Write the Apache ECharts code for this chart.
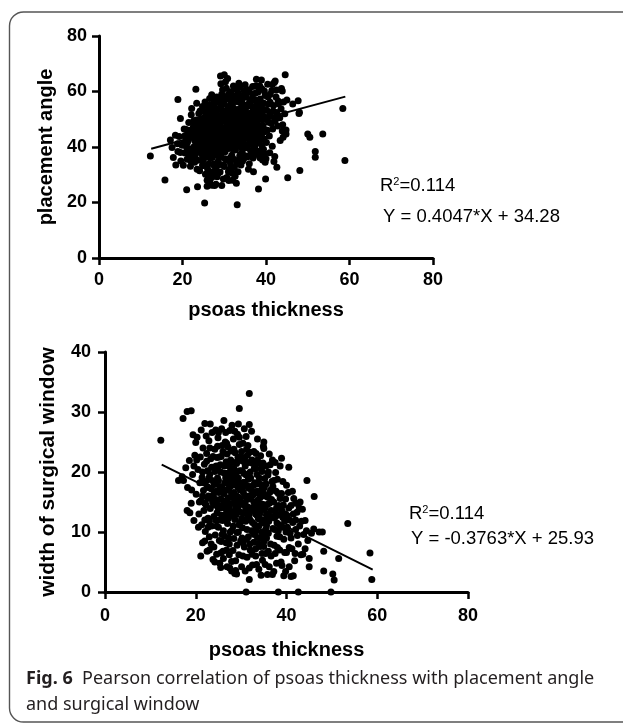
<!DOCTYPE html>
<html><head><meta charset="utf-8">
<script src="https://cdn.jsdelivr.net/npm/echarts@6/dist/echarts.min.js"></script>
<style>html,body{margin:0;padding:0;background:#fff}#c{width:623px;height:724px}</style>
</head><body><div id="c"></div>
<script>
const xTicks = [0, 20, 40, 60, 80];
const angleTicks = [0, 20, 40, 60, 80];
const windowTicks = [0, 10, 20, 30, 40];
const fitX = [12.5, 59];
const angleFit = { slope: 0.4047, intercept: 34.28, r2: '0.114' };
const windowFit = { slope: -0.3763, intercept: 25.93, r2: '0.114' };

const anglePoints = [
[17.1,42.5],[17.8,36.2],[18.4,33.5],[18.9,38.4],[19.2,43.8],[19.6,35.0],[19.9,40.6],[18.3,44.2],[19.5,50.3],[20.2,33.4],[20.4,46.5],[17.5,39.8],[18.8,41.2],
[20.6,37.8],[20.8,42.1],[21.1,35.6],[21.3,44.9],[21.5,48.8],[21.7,39.4],[21.9,33.1],[22.1,51.6],[21.2,41.7],[20.9,46.3],[22.3,36.9],[22.4,43.6],[22.6,47.2],[22.2,53.9],[21.6,37.0],[22.8,40.2],[22.9,34.5],[20.5,44.0],
[23.1,38.6],[23.2,45.3],[23.3,49.7],[23.4,55.8],[23.6,42.0],[23.7,35.2],[23.9,52.1],[24.0,47.6],[24.1,31.4],[24.2,40.3],[24.4,44.1],[24.5,50.2],[24.6,37.5],[24.8,54.6],[24.9,33.8],[25.0,46.8],[25.1,42.6],[25.2,48.9],[25.3,39.1],[25.4,56.2],[25.5,30.2],[25.6,36.4],[25.7,44.7],[25.8,51.3],[25.9,28.0],[23.5,46.9],[24.3,38.0],[25.0,41.0],[23.8,43.5],[24.7,49.0],
[26.0,40.5],[26.1,47.3],[26.2,53.4],[26.3,34.0],[26.4,43.2],[26.5,57.5],[26.6,38.2],[26.7,49.6],[26.8,31.0],[26.9,45.6],[27.0,41.7],[27.1,51.8],[27.2,36.3],[27.3,47.9],[27.4,43.9],[27.5,55.0],[27.6,33.2],[27.7,39.6],[27.8,49.1],[27.9,45.0],[28.0,52.6],[28.1,37.4],[28.2,42.5],[28.3,29.3],[28.4,47.0],[28.5,56.3],[28.6,35.0],[28.7,50.4],[28.8,40.8],[28.9,44.6],[26.2,29.4],[27.0,26.2],[26.5,27.6],[27.4,30.5],[28.0,32.2],[26.7,36.0],[27.2,45.5],[28.3,46.0],[26.4,51.0],[27.8,54.0],[28.6,38.8],
[29.0,48.2],[29.1,54.3],[29.2,36.6],[29.3,43.1],[29.4,59.0],[29.5,40.0],[29.6,51.5],[29.7,46.5],[29.8,33.5],[29.9,56.8],[30.0,44.0],[30.1,49.8],[30.2,38.3],[30.3,53.0],[30.4,41.9],[30.5,61.2],[30.6,47.4],[30.7,35.2],[30.8,57.4],[30.9,50.9],[31.0,44.9],[31.1,39.5],[31.2,54.7],[31.3,32.0],[31.4,48.6],[31.5,42.4],[31.6,59.9],[31.7,52.0],[31.8,37.0],[31.9,46.0],[29.2,62.8],[30.3,63.5],[31.1,27.9],[30.6,29.0],[31.9,30.5],[29.5,45.3],[30.1,52.3],[31.3,50.0],[29.8,41.2],[30.9,43.1],[31.6,55.8],
[32.0,55.9],[32.1,41.1],[32.2,49.3],[32.3,35.6],[32.4,58.5],[32.5,45.7],[32.6,52.8],[32.7,38.9],[32.8,47.8],[32.9,43.5],[33.0,56.4],[33.1,33.9],[33.2,50.6],[33.3,40.5],[33.4,59.5],[33.5,46.9],[33.6,53.7],[33.7,36.8],[33.8,44.3],[33.9,49.0],[34.0,57.6],[34.1,41.8],[34.2,51.4],[34.3,38.1],[34.4,47.2],[34.5,55.1],[34.6,44.8],[34.7,35.9],[34.8,60.3],[34.9,50.0],[32.6,29.5],[33.3,31.1],[34.0,36.0],[33.9,37.3],[32.2,62.0],[33.7,61.5],[34.4,53.0],
[35.0,46.1],[35.1,53.8],[35.2,39.7],[35.3,57.9],[35.4,43.4],[35.5,50.7],[35.6,36.5],[35.7,48.5],[35.8,55.5],[35.9,41.0],[36.0,60.6],[36.1,45.2],[36.2,52.2],[36.3,38.7],[36.4,49.4],[36.5,56.6],[36.6,42.8],[36.7,47.0],[36.8,58.9],[36.9,36.0],[37.0,53.3],[37.1,44.5],[37.2,50.8],[37.3,40.1],[37.4,57.0],[37.5,46.6],[37.6,62.1],[37.7,51.9],[37.8,43.0],[37.9,55.2],[36.4,37.2],[37.1,38.0],[35.8,32.0],
[38.0,48.3],[38.1,59.8],[38.2,41.5],[38.3,53.6],[38.4,36.8],[38.5,45.9],[38.6,57.3],[38.7,50.2],[38.8,38.5],[38.9,44.1],[39.0,61.0],[39.1,52.5],[39.2,35.3],[39.3,47.7],[39.4,55.9],[39.5,42.9],[39.6,50.8],[39.7,37.6],[39.8,58.6],[39.9,46.1],[40.0,35.8],[40.2,53.2],[40.4,62.6],[40.6,48.9],[40.8,44.0],[38.6,36.0],[39.8,34.5],
[41.0,56.1],[41.2,51.0],[41.4,60.4],[41.6,46.5],[41.8,55.0],[42.0,63.2],[42.2,49.5],[42.4,58.0],[42.6,52.4],[42.8,47.6],[43.0,55.6],[43.3,50.5],[43.6,53.8],[43.9,45.8],[44.2,56.2],[44.5,52.0],[41.5,40.3],[42.1,36.6],[41.9,34.8],[40.9,37.9],
[12.3,36.8],[15.8,28.1],[18.9,57.1],[21.0,24.6],[25.3,19.8],[33.1,19.2],[23.2,60.8],[29.1,65.6],[30.0,66.0],[30.8,64.7],[44.6,66.0],[37.7,64.4],[38.9,64.1],[58.4,53.9],[58.9,35.1],[53.6,44.7],[51.8,38.4],[51.8,36.3],[50.0,44.7],[50.5,43.5],[48.1,31.5],[45.2,28.9],[42.6,32.7],[39.9,28.5],[38.2,24.9],[32.9,26.9],[29.4,26.1],[27.7,26.1],[23.6,25.7],[47.9,52.1],[44.8,46.1],[44.8,44.7],[44.1,43.5],[43.4,42.3],[44.0,48.0],[42.7,50.7],[43.9,60.2],[42.9,56.6],[46.4,55.5],[48.0,52.5],
[37.0,31.1],[43.7,61.1],[42.2,63.8],[45.0,56.9],[47.7,56.7],[31.0,31.1],[25.9,25.9],[28.0,26.6],
[21.4,42.8],[21.8,46.0],[22.0,39.0],[22.5,45.0],[22.7,49.5],[22.9,42.3],[23.0,36.8],[23.3,40.8],[23.6,48.2],[23.9,45.0],[24.0,39.2],[24.2,53.0],[24.5,42.4],[24.7,46.0],[24.9,36.0],[25.2,44.5],[25.4,50.8],[25.6,38.5],[25.8,47.8],[25.9,42.0],[26.1,45.0],[26.3,49.0],[26.5,41.2],[26.6,55.2],[26.8,43.6],[26.9,39.5],[27.1,47.0],[27.3,53.5],[27.5,41.0],[27.6,45.8],[27.8,37.8],[28.0,50.2],[28.1,43.8],[28.3,40.0],[28.5,53.8],[28.7,47.6],[28.8,36.5],[29.0,42.0],[29.1,51.2],[29.3,45.5],[29.4,38.0],[29.6,49.4],[29.7,55.4],[29.9,43.0],[30.0,47.0],[30.2,57.8],[30.4,50.6],[30.5,39.8],[30.7,45.2],[30.9,54.0],[31.0,42.0],[31.2,48.0],[31.4,36.0],[31.5,52.8],[31.7,44.0],[31.9,50.3],[32.0,46.3],[32.2,39.0],[32.3,54.0],[32.5,42.6],[32.7,50.0],[32.8,56.6],[33.0,45.2],[33.1,40.6],[33.3,53.0],[33.5,48.8],[33.6,43.0],[33.8,56.0],[34.0,46.0],[34.1,39.8],[34.3,55.0],[34.5,49.6],[34.7,42.6],[34.8,52.4],[35.0,44.0],[35.2,48.0],[35.3,55.0],[35.5,40.6],[35.7,52.0],[35.9,46.6],[36.0,43.0],[36.2,57.0],[36.4,50.8],[36.5,44.6],[36.7,54.4],[36.9,40.8],[37.0,48.6],[37.2,46.0],[37.4,52.6],[37.6,42.0],[37.8,49.5],[38.0,56.0],[38.2,44.5],[38.4,51.0],[38.6,47.0],[38.8,54.6],[39.0,40.5],[39.2,49.8],[39.5,45.4],[39.7,53.5],[40.0,50.0],[40.3,46.0],[40.6,55.5],[40.9,51.8],[41.3,48.5],[41.7,53.0],[40.1,41.6],[39.4,39.2],[38.0,38.5],[36.8,37.0],[35.2,36.8],[34.0,33.5],[33.0,35.0],[30.0,33.0],[29.0,31.0],[27.5,34.0],[26.0,36.5],[24.8,33.2],[23.5,32.0],[22.6,38.0],[22.0,35.0],[21.0,39.8],[20.3,41.4],[19.5,38.0],[27.0,58.8],[28.2,58.0],[29.6,60.6],[31.0,59.0],[32.8,60.8],[34.6,58.5],[35.6,59.8],[36.8,61.8],[38.5,62.0],[39.6,60.2],[33.5,63.0],[35.0,62.4],[41.0,59.0],[40.5,58.0],[42.5,60.5],[41.5,62.5],[34.4,35.0],[36.0,34.0],[32.4,32.6],[31.5,34.0],[30.2,35.8],[28.7,33.6],[26.0,32.2],[25.0,35.5],[27.0,29.0],[29.8,28.5],[32.0,28.0],[28.5,30.5],
[22.2,44.3],[23.0,47.8],[23.7,40.0],[24.4,48.6],[25.1,52.8],[25.3,46.5],[26.0,43.0],[26.3,38.8],[26.8,47.8],[27.1,43.4],[27.6,50.6],[28.1,48.5],[28.4,44.2],[28.6,42.0],[29.2,46.8],[29.5,53.0],[29.8,38.8],[30.1,45.6],[30.6,43.6],[30.8,48.8],[31.2,46.4],[31.4,40.8],[31.8,48.2],[32.1,44.0],[32.4,51.2],[32.6,47.0],[33.0,42.0],[33.2,48.0],[33.4,44.8],[33.7,51.0],[34.0,43.8],[34.2,48.4],[34.6,46.4],[34.9,40.6],[35.1,51.5],[35.4,45.6],[35.9,49.2],[36.2,47.4],[36.6,51.2],[37.1,42.2],[37.5,49.0],[38.0,52.4],[38.3,46.5],[38.7,42.6],[39.1,47.0],[39.4,51.0],[26.0,55.0],[27.5,57.0],[29.0,57.0],[30.0,55.5],[31.5,57.2],[33.0,58.2],[34.2,56.5],[36.0,55.0],[37.5,59.5],[26.5,46.4],[25.0,38.0],[24.0,42.0]
];

const windowPoints = [
[17.0,19.2],[17.8,20.7],[18.2,17.4],[18.6,21.9],[19.0,14.8],[19.3,19.6],[19.6,11.9],[19.8,22.8],[20.1,16.3],[20.3,25.8],[20.5,20.4],[20.7,13.0],[20.9,18.2],[18.1,13.6],[18.7,13.2],[19.4,26.2],[20.0,24.9],[20.6,10.8],[17.3,18.6],[19.1,17.0],
[21.0,22.5],[21.1,15.2],[21.2,27.0],[21.3,11.2],[21.4,19.1],[21.5,8.2],[21.6,24.0],[21.7,16.9],[21.8,13.6],[21.9,21.3],[22.0,28.1],[22.1,10.1],[22.2,18.4],[22.3,14.5],[22.4,23.1],[22.5,6.8],[22.6,20.2],[22.7,12.3],[22.8,16.0],[22.9,25.2],[23.0,9.2],[23.1,19.6],[23.2,13.9],[23.3,22.2],[23.4,17.2],[23.5,11.0],[23.6,26.6],[23.7,15.0],[23.8,5.4],[23.9,20.8],[21.5,16.0],[22.6,17.5],[23.4,8.0],[22.0,12.0],[23.1,24.0],
[24.0,12.6],[24.1,17.9],[24.2,23.8],[24.3,9.5],[24.4,15.4],[24.5,21.0],[24.6,6.3],[24.7,13.2],[24.8,19.0],[24.9,25.7],[25.0,10.8],[25.1,16.6],[25.2,22.5],[25.3,4.8],[25.4,14.0],[25.5,20.0],[25.6,8.4],[25.7,27.2],[25.8,17.5],[25.9,11.9],[26.0,23.4],[26.1,5.6],[26.2,15.2],[26.3,19.8],[26.4,9.3],[26.5,25.0],[26.6,13.0],[26.7,21.7],[26.8,7.0],[26.9,17.0],[24.2,5.0],[24.6,11.0],[25.2,12.0],[25.9,14.5],[26.4,18.2],[24.8,24.3],[26.6,26.6],[25.5,6.5],[26.9,4.2],[24.4,27.0],
[27.0,11.4],[27.1,24.2],[27.2,15.7],[27.3,19.3],[27.4,8.0],[27.5,26.9],[27.6,13.5],[27.7,22.0],[27.8,17.7],[27.9,5.1],[28.0,10.3],[28.1,20.6],[28.2,14.8],[28.3,25.5],[28.4,8.9],[28.5,18.3],[28.6,12.1],[28.7,23.2],[28.8,3.6],[28.9,16.1],[29.0,21.4],[29.1,9.9],[29.2,26.3],[29.3,13.8],[29.4,19.0],[29.5,6.2],[29.6,24.6],[29.7,11.6],[29.8,17.0],[29.9,22.6],[27.2,18.0],[27.8,12.8],[28.4,16.6],[28.9,19.8],[29.5,14.6],[28.2,6.9],[29.0,3.0],[27.5,4.0],[29.9,8.5],[28.6,26.8],[27.3,21.0],[29.3,17.4],
[30.0,15.0],[30.1,4.2],[30.2,20.2],[30.3,10.7],[30.4,24.8],[30.5,13.1],[30.6,18.3],[30.7,7.5],[30.8,22.4],[30.9,16.0],[31.0,11.8],[31.1,25.9],[31.2,19.5],[31.3,5.8],[31.4,14.2],[31.5,21.6],[31.6,9.2],[31.7,17.3],[31.8,12.9],[31.9,23.3],[32.0,7.0],[32.1,19.0],[32.2,15.5],[32.3,10.2],[32.4,22.0],[32.5,4.5],[32.6,13.6],[32.7,17.8],[32.8,8.3],[32.9,20.6],[30.5,16.6],[31.3,15.4],[32.0,12.0],[31.6,18.8],[30.2,9.0],[32.4,6.3],[30.9,3.5],[31.5,24.4],[32.8,23.4],[30.4,21.8],
[33.0,11.2],[33.1,16.5],[33.2,6.0],[33.3,23.1],[33.4,13.9],[33.5,19.6],[33.6,9.1],[33.7,15.3],[33.8,21.5],[33.9,3.8],[34.0,12.4],[34.1,18.0],[34.2,7.6],[34.3,22.7],[34.4,14.7],[34.5,10.0],[34.6,20.1],[34.7,5.3],[34.8,16.8],[34.9,12.0],[35.0,23.9],[35.1,8.5],[35.2,18.9],[35.3,14.0],[35.4,6.4],[35.5,21.0],[35.6,11.1],[35.7,16.1],[35.8,2.9],[35.9,19.5],[33.5,12.8],[34.2,15.8],[34.9,9.4],[35.6,13.0],[33.2,20.6],[34.6,17.8],[35.3,4.6],[33.9,8.0],
[36.0,9.8],[36.2,14.8],[36.4,21.2],[36.6,6.0],[36.8,12.5],[37.0,17.6],[37.2,3.4],[37.4,10.4],[37.6,19.9],[37.8,14.0],[38.0,7.4],[38.2,16.4],[38.4,11.2],[38.6,21.0],[38.8,5.0],[39.0,13.6],[39.2,18.4],[39.4,8.8],[39.6,11.8],[39.8,15.5],[40.0,6.6],[36.5,17.0],[37.3,7.8],[38.1,12.8],[39.0,4.4],[36.9,22.0],[39.9,10.0],[37.9,9.3],
[40.2,12.7],[40.4,16.6],[40.6,4.2],[40.8,9.8],[41.0,14.4],[41.2,7.2],[41.4,11.6],[41.6,15.6],[41.8,5.2],[42.0,10.4],[42.3,13.3],[42.6,8.0],[42.9,11.0],[43.2,6.2],[43.5,13.8],[43.8,9.6],[44.1,11.9],[44.4,10.2],[44.7,8.6],[42.0,14.8],[41.0,2.6],[43.0,15.0],[40.5,20.8],
[12.3,25.3],[17.2,28.9],[18.1,30.1],[19.0,30.2],[31.8,33.1],[29.6,30.6],[31.8,27.9],[53.5,11.4],[58.4,6.5],[58.8,2.1],[51.5,5.6],[50.5,2.0],[50.2,3.0],[48.2,6.8],[48.2,3.5],[49.8,0],[46.1,15.9],[44.5,18.6],[47.2,10.0],[47.9,10.0],[38.9,22.3],[34.9,24.3],[21.1,6.0],[16.2,18.6],[31.1,0],[38.2,0],[42.6,0],[31.8,2.1],[39.4,2.7],[41.5,2.7],[36.9,2.9],[27.9,3.5],[28.6,3.1],[25.5,4.1],[45.0,4.2],[45.0,5.6],[44.1,7.2],[43.6,6.3],[41.9,6.4],[45.5,9.8],[46.0,10.5],
[21.5,20.0],[21.8,18.3],[22.0,14.8],[22.4,21.8],[22.6,15.6],[22.9,19.0],[23.0,11.8],[23.3,15.8],[23.6,18.6],[23.8,22.6],[24.0,14.5],[24.2,20.1],[24.4,12.0],[24.5,16.8],[24.7,22.4],[24.9,14.1],[25.0,18.6],[25.2,8.6],[25.4,21.2],[25.5,15.5],[25.7,12.8],[25.8,24.4],[26.0,17.0],[26.1,10.2],[26.3,21.0],[26.4,14.0],[26.6,19.0],[26.7,8.2],[26.9,23.0],[27.0,15.0],[27.2,12.3],[27.3,17.0],[27.5,20.0],[27.6,10.0],[27.8,23.5],[27.9,16.4],[28.0,13.2],[28.1,18.8],[28.3,11.0],[28.4,21.6],[28.6,15.0],[28.7,19.6],[28.9,12.9],[29.0,17.8],[29.1,7.8],[29.3,22.4],[29.4,15.8],[29.6,11.2],[29.7,20.2],[29.9,13.3],[30.0,18.0],[30.1,23.4],[30.3,14.6],[30.4,8.2],[30.6,19.8],[30.7,12.0],[30.9,21.0],[31.0,14.0],[31.1,17.8],[31.3,10.4],[31.4,22.8],[31.6,13.6],[31.7,16.0],[31.9,8.0],[32.0,20.0],[32.2,14.0],[32.3,17.0],[32.5,11.6],[32.6,21.4],[32.8,15.0],[32.9,9.6],[33.0,18.2],[33.2,13.0],[33.3,10.2],[33.5,16.8],[33.6,22.0],[33.8,14.2],[33.9,11.0],[34.0,19.0],[34.2,9.0],[34.3,13.5],[34.5,17.0],[34.6,11.5],[34.8,21.5],[34.9,14.6],[35.0,7.6],[35.2,16.0],[35.3,12.0],[35.5,18.0],[35.6,9.0],[35.8,14.6],[36.0,20.0],[36.1,11.8],[36.3,16.6],[36.5,8.0],[36.6,13.6],[36.8,18.4],[37.0,10.6],[37.2,15.0],[37.4,12.4],[37.5,6.4],[37.7,16.8],[37.9,11.5],[38.0,18.8],[38.3,14.4],[38.5,9.2],[38.7,13.0],[38.9,16.4],[39.1,10.8],[39.3,14.5],[39.6,6.6],[39.8,13.0],[40.0,17.8],[40.2,10.8],[40.5,14.0],[40.7,12.0],[41.0,9.0],[41.3,16.8],[41.5,13.0],[42.0,12.0],[42.4,9.4],[42.8,14.0],[43.3,11.8],[36.2,23.0],[37.5,21.6],[35.0,25.0],[33.6,25.5],[32.3,26.8],[30.7,27.2],[29.4,28.0],[28.0,27.8],[26.2,28.6],[25.0,26.6],[23.2,28.0],[22.3,26.0],[24.0,7.5],[26.0,6.8],[27.4,6.2],[28.8,5.2],[30.4,6.0],[31.8,4.0],[33.4,4.6],[34.4,2.8],[36.2,4.2],[37.8,4.8],[39.8,3.4],[38.5,7.0],[40.6,7.4],[23.0,7.0],[22.0,8.5],[20.8,15.0],[20.2,22.0],[19.6,21.0],
[22.8,17.4],[23.5,20.8],[24.3,18.2],[24.6,14.8],[25.3,17.6],[25.6,22.6],[26.2,16.4],[26.5,12.0],[27.0,19.8],[27.4,14.2],[27.7,18.6],[28.2,16.0],[28.5,20.4],[28.8,14.0],[29.2,18.6],[29.5,22.0],[29.8,15.6],[30.1,12.2],[30.3,17.2],[30.8,14.8],[31.0,19.6],[31.5,12.4],[31.9,17.6],[32.1,21.6],[32.7,16.2],[33.1,14.4],[33.4,18.0],[33.8,12.2],[34.1,16.4],[34.4,20.6],[34.7,13.8],[35.1,17.4],[35.4,10.4],[35.9,15.8],[36.4,12.6],[36.7,15.4],[37.2,18.6],[37.6,13.2],[38.2,10.2],[38.6,15.6],[39.2,12.4],[23.9,16.2],[24.9,20.8],[26.8,24.8],[28.4,23.8],[29.6,25.8],[31.2,23.8],[27.3,9.0],[29.4,10.0],[31.2,8.8],[33.2,7.2],[25.8,9.6],[22.7,10.8],[36.0,6.8],[34.6,6.4]
];

const F = '"Liberation Sans", Arial, sans-serif';
function fitLine(f) { return fitX.map(x => [x, f.slope * x + f.intercept]); }
function xAx(grid, name, labelMargin, gap) {
  return { gridIndex: grid, type: 'value', min: xTicks[0], max: xTicks[xTicks.length - 1], interval: xTicks[1] - xTicks[0],
    axisLine: { onZero: false, lineStyle: { color: '#000', width: 3 } },
    axisTick: { length: 7, lineStyle: { color: '#000', width: 2.5 } },
    splitLine: { show: false },
    axisLabel: { color: '#000', fontWeight: 'bold', fontSize: 18, fontFamily: F, margin: labelMargin },
    name: name, nameLocation: 'middle', nameGap: gap,
    nameTextStyle: { color: '#000', fontWeight: 'bold', fontSize: 20, fontFamily: F } };
}
function yAx(grid, ticks, name, labelMargin, gap, nameSize) {
  return { gridIndex: grid, type: 'value', min: ticks[0], max: ticks[ticks.length - 1], interval: ticks[1] - ticks[0],
    axisLine: { onZero: false, lineStyle: { color: '#000', width: 3 } },
    axisTick: { length: 7, lineStyle: { color: '#000', width: 2.5 } },
    splitLine: { show: false },
    axisLabel: { color: '#000', fontWeight: 'bold', fontSize: 18, fontFamily: F, margin: labelMargin },
    name: name, nameLocation: 'middle', nameGap: gap,
    nameTextStyle: { color: '#000', fontWeight: 'bold', fontSize: nameSize, fontFamily: F } };
}
const chart = echarts.init(document.getElementById('c'), null, { renderer: 'canvas' });
const anno = (t, x, y) => ({ type: 'text', left: x, top: y, style: { text: t, fill: '#000', font: '18.5px ' + F,
  rich: { s: { fontSize: 11, verticalAlign: 'top', fill: '#000', fontFamily: F, padding: [0, 0, 9, 0] } } } });
chart.setOption({
  animation: false,
  backgroundColor: '#fff',
  grid: [
    { left: 99, top: 36, width: 334, height: 222 },
    { left: 105, top: 352, width: 363, height: 240 }
  ],
  xAxis: [xAx(0, 'psoas thickness', 13, 42), xAx(1, 'psoas thickness', 15, 48)],
  yAxis: [yAx(0, angleTicks, 'placement angle', 12, 41, 20), yAx(1, windowTicks, 'width of surgical window', 14, 46, 21)],
  series: [
    { type: 'scatter', xAxisIndex: 0, yAxisIndex: 0, data: anglePoints, symbolSize: 7, itemStyle: { color: '#000', opacity: 1 } },
    { type: 'line', xAxisIndex: 0, yAxisIndex: 0, data: fitLine(angleFit), symbol: 'none', lineStyle: { color: '#000', width: 2 } },
    { type: 'scatter', xAxisIndex: 1, yAxisIndex: 1, data: windowPoints, symbolSize: 7, itemStyle: { color: '#000', opacity: 1 } },
    { type: 'line', xAxisIndex: 1, yAxisIndex: 1, data: fitLine(windowFit), symbol: 'none', lineStyle: { color: '#000', width: 2 } }
  ],
  graphic: [
    { type: 'rect', shape: { x: 9.5, y: 12, width: 640, height: 710, r: 14 }, style: { fill: 'none', stroke: '#555', lineWidth: 1.4 }, z: -1 },
    anno('R{s|2}=' + angleFit.r2, 380, 176),
    anno('Y = ' + angleFit.slope + '*X + ' + angleFit.intercept, 383, 207),
    anno('R{s|2}=' + windowFit.r2, 409, 504),
    anno('Y = ' + windowFit.slope + '*X + ' + windowFit.intercept, 411, 529),
    { type: 'text', left: 26, top: 666, style: { text: '{b|Fig. 6}  Pearson correlation of psoas thickness with placement angle\nand surgical window',
      fill: '#231f20', font: '18px "Noto Sans"', lineHeight: 26,
      rich: { b: { fontWeight: 'bold', fontSize: 18, fontFamily: 'Noto Sans', fill: '#231f20', lineHeight: 26 } } } }
  ]
});
</script></body></html>
